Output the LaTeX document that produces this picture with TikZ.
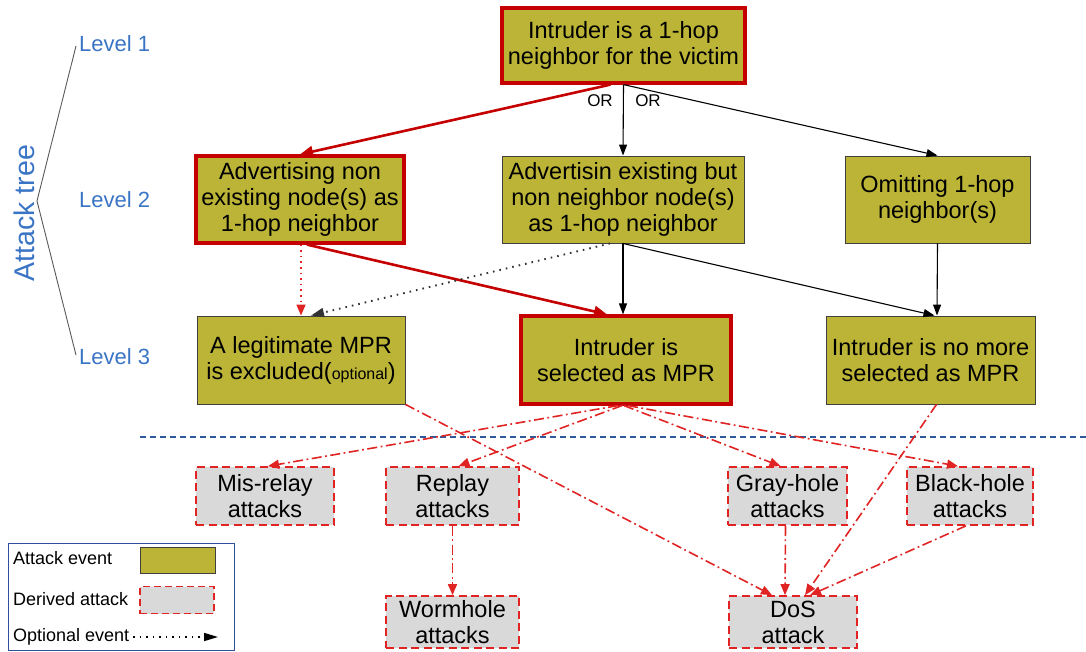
\documentclass[tikz,border=0pt]{standalone}
\usepackage{fontspec}
\setmainfont{Liberation Sans}
\usetikzlibrary{arrows.meta}
\definecolor{olivefill}{HTML}{BCB436}
\definecolor{greyfill}{HTML}{D9D9D9}
\definecolor{boxred}{HTML}{C40000}
\definecolor{dred}{HTML}{E02424}
\definecolor{lvblue}{HTML}{3A74C4}
\definecolor{legblue}{HTML}{2F4F9F}
\definecolor{sepblue}{HTML}{2E5A9C}
\begin{document}
\begin{tikzpicture}[x=1pt,y=-1pt,
  txt/.style={font=\fontsize{23.5}{26}\selectfont, align=center, inner sep=0pt},
  ev/.style={txt, draw=black!75, fill=olivefill, line width=0.9pt},
  evred/.style={ev, draw=boxred, line width=3.2pt},
  der/.style={txt, draw=dred, fill=greyfill, line width=1.7pt, dash pattern=on 8pt off 4.5pt},
  lvl/.style={font=\fontsize{22}{26}\selectfont, text=lvblue, anchor=west, inner sep=0pt},
  redarr/.style={draw=boxred, line width=2.6pt, -{Triangle[length=13pt,width=11pt]}},
  blkarr/.style={draw=black, line width=1.1pt, -{Triangle[length=11pt,width=8pt]}},
  ddarr/.style={draw=dred, line width=1.6pt, dash pattern=on 10pt off 3.5pt on 1.8pt off 3.5pt, -{Triangle[length=11pt,width=9pt]}},
  rdot/.style={draw=dred, line width=1.6pt, dash pattern=on 1.6pt off 4pt, -{Triangle[length=11pt,width=9pt]}},
  kdot/.style={draw=black!80, line width=1.9pt, dash pattern=on 1.6pt off 5pt, -{Triangle[length=13pt,width=9pt]}},
  ortxt/.style={font=\fontsize{17}{20}\selectfont, inner sep=0pt},
  legtxt/.style={font=\fontsize{18}{20}\selectfont, anchor=west, inner sep=0pt}
]
\useasboundingbox (0,0) rectangle (1086,651);

% attack tree labels
\node[rotate=90, font=\fontsize{28.5}{30}\selectfont, text=lvblue, inner sep=0pt] (at) at (24,213) {Attack tree};
\node[lvl] (lv1) at (79,44) {Level 1};
\node[lvl] (lv2) at (79,200) {Level 2};
\node[lvl] (lv3) at (79,357) {Level 3};
\coordinate (apex) at (37,201);
\draw[black!65, line width=0.9pt] ([xshift=-3pt,yshift=-2pt]lv1.west) -- (apex) -- ([xshift=-3pt,yshift=2pt]lv3.west);

% level 1
\node[evred, minimum width=243pt, minimum height=75pt] (top) at (623.5,45.5) {Intruder is a 1-hop\\neighbor for the victim};

% level 2
\node[evred, minimum width=208pt, minimum height=87pt] (a2) at (300,199.5) {Advertising non\\existing node(s) as\\1-hop neighbor};
\node[ev, minimum width=242pt, minimum height=87pt] (b2) at (623,199.5) {Advertisin existing but\\non neighbor node(s)\\as 1-hop neighbor};
\node[ev, minimum width=185pt, minimum height=87pt] (c2) at (937.5,199.5) {Omitting 1-hop\\neighbor(s)};

% level 3
\node[ev, minimum width=208pt, minimum height=88pt] (a3) at (301,360) {A legitimate MPR\\is excluded({\fontsize{16}{20}\selectfont optional})};
\node[evred, minimum width=210pt, minimum height=88pt] (b3) at (626,360) {Intruder is\\selected as MPR};
\node[ev, minimum width=209pt, minimum height=88pt] (c3) at (930.5,360) {Intruder is no more\\selected as MPR};

% separator
\coordinate (sepL) at (140,437);
\coordinate (sepR) at (1086,437);
\draw[sepblue, line width=1.1pt, dash pattern=on 6pt off 4pt] (sepL) -- (sepR);

% derived attacks
\node[der, minimum width=138pt, minimum height=58pt] (mis) at (265,496) {Mis-relay\\attacks};
\node[der, minimum width=133pt, minimum height=58pt] (rep) at (452.5,496) {Replay\\attacks};
\node[der, minimum width=119pt, minimum height=58pt] (gray) at (787.5,496) {Gray-hole\\attacks};
\node[der, minimum width=126pt, minimum height=58pt] (black) at (970,496) {Black-hole\\attacks};
\node[der, minimum width=133pt, minimum height=52pt] (worm) at (452.5,622) {Wormhole\\attacks};
\node[der, minimum width=128pt, minimum height=52pt] (dos) at (793,622) {DoS\\attack};

% level 1 -> level 2
\draw[redarr] ([xshift=-13pt]top.south) -- (a2.north);
\draw[blkarr] (top.south) -- (b2.north);
\draw[blkarr] (top.south) -- (c2.north);
\node[ortxt] (or1) at (600,101) {OR};
\node[ortxt] (or2) at (648,101) {OR};

% level 2 -> level 3
\draw[rdot] ([xshift=1pt]a2.south) -- (a3.north);
\draw[redarr] ([xshift=7pt]a2.south) -- ([xshift=-19pt]b3.north);
\draw[kdot] ([xshift=-13pt]b2.south) -- ([xshift=10pt]a3.north);
\draw[blkarr] (b2.south) -- ([xshift=-3pt]b3.north);
\draw[blkarr] (b2.south) -- ([xshift=4pt]c3.north);
\draw[blkarr] (c2.south) -- ([xshift=6.5pt]c3.north);

% level 3 -> derived
\draw[ddarr] ([xshift=-8pt]b3.south) -- ([xshift=3pt]mis.north);
\draw[ddarr] ([xshift=-4pt]b3.south) -- ([xshift=6pt]rep.north);
\draw[ddarr] ([xshift=-2pt]b3.south) -- ([xshift=-7pt]gray.north);
\draw[ddarr] ([xshift=2pt]b3.south) -- ([xshift=-12pt]black.north);
\draw[ddarr] (a3.south east) -- ([xshift=-21pt]dos.north);
\draw[ddarr] ([xshift=6pt]c3.south) -- ([xshift=12pt]dos.north);
\draw[ddarr] (rep.south) -- (worm.north);
\draw[ddarr] ([xshift=-2pt]gray.south) -- ([xshift=-8pt]dos.north);
\draw[ddarr] ([xshift=-4pt]black.south) -- ([xshift=17pt]dos.north);

% legend
\node[draw=legblue, line width=1pt, minimum width=226pt, minimum height=107pt, inner sep=0pt] (leg) at (121,596.5) {};
\node[legtxt] (l1) at (13,558) {Attack event};
\node[legtxt] (l2) at (13,599) {Derived attack};
\node[legtxt] (l3) at (13,637) {Optional event};
\node[draw=black!75, fill=olivefill, line width=0.9pt, minimum width=75pt, minimum height=26pt, inner sep=0pt] (l1box) at (177.5,560.5) {};
\node[draw=dred, fill=greyfill, line width=1.6pt, dash pattern=on 7pt off 4pt, minimum width=74pt, minimum height=27pt, inner sep=0pt] (l2box) at (177,600) {};
\coordinate (l3end) at (218,637);
\draw[draw=black, line width=1.6pt, dash pattern=on 1.5pt off 5pt, -{Triangle[length=14pt,width=8pt]}] ([xshift=4pt]l3.east) -- (l3end);
\end{tikzpicture}
\end{document}
